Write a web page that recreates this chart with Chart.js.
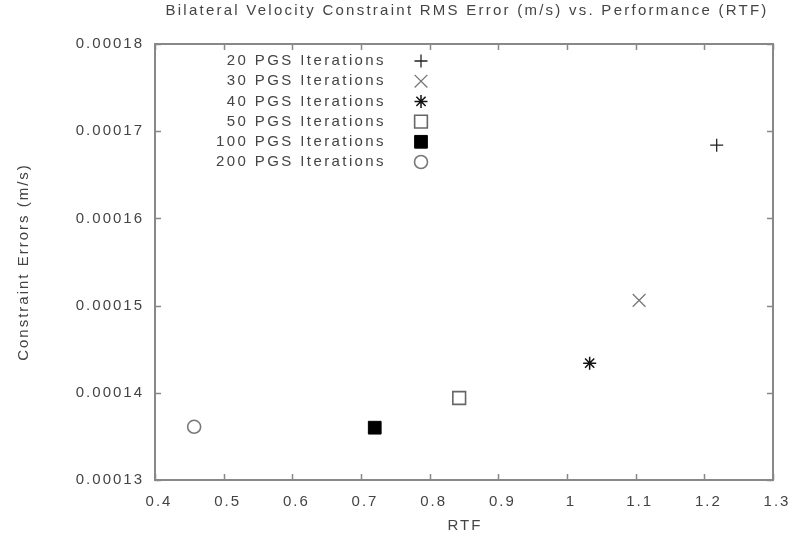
<!DOCTYPE html>
<html><head><meta charset="utf-8">
<script src="https://cdn.jsdelivr.net/npm/chart.js@4.4.1/dist/chart.umd.min.js"></script>
<style>html,body{margin:0;padding:0;background:#fff}#wrap{width:806px;height:538px}</style>
</head><body><div id="wrap"><canvas id="c" width="806" height="538"></canvas></div>
<script>
// ---- data ----
const seriesLabels = ['20 PGS Iterations','30 PGS Iterations','40 PGS Iterations','50 PGS Iterations','100 PGS Iterations','200 PGS Iterations'];
const rtfValues = [1.218, 1.105, 1.033, 0.843, 0.720, 0.457];
const errorValues = [0.0001684, 0.0001506, 0.0001434, 0.0001394, 0.0001360, 0.0001361];
const xTickValues = [0.4,0.5,0.6,0.7,0.8,0.9,1.0,1.1,1.2,1.3];
const xTickLabels = ['0.4','0.5','0.6','0.7','0.8','0.9','1','1.1','1.2','1.3'];
const yTickValues = [0.00013,0.00014,0.00015,0.00016,0.00017,0.00018];
const yTickLabels = ['0.00013','0.00014','0.00015','0.00016','0.00017','0.00018'];
const titleText = 'Bilateral Velocity Constraint RMS Error (m/s) vs. Performance (RTF)';
const xTitleText = 'RTF';
const yTitleText = 'Constraint Errors (m/s)';

// ---- styles ----
const markerStyles = [
  {pointStyle:'cross', radius:6.5, borderColor:'#222', backgroundColor:'rgba(0,0,0,0)', borderWidth:1.3},
  {pointStyle:'crossRot', radius:9, borderColor:'#777', backgroundColor:'rgba(0,0,0,0)', borderWidth:1.3},
  {pointStyle:'star', radius:6.5, borderColor:'#111', backgroundColor:'rgba(0,0,0,0)', borderWidth:1.5},
  {pointStyle:'rect', radius:9, borderColor:'#666', backgroundColor:'#fff', borderWidth:1.6},
  {pointStyle:'rect', radius:9, borderColor:'#000', backgroundColor:'#000', borderWidth:1},
  {pointStyle:'circle', radius:6.5, borderColor:'#777', backgroundColor:'#fff', borderWidth:1.6}
];
const FONT = '"Liberation Sans", Arial, sans-serif';
const TEXT = '#444';

const datasets = seriesLabels.map((lab, i) => ({
  label: lab,
  data: [{x: rtfValues[i], y: errorValues[i]}],
  pointStyle: markerStyles[i].pointStyle,
  pointRadius: markerStyles[i].radius,
  pointHoverRadius: markerStyles[i].radius,
  pointBorderColor: markerStyles[i].borderColor,
  pointBackgroundColor: markerStyles[i].backgroundColor,
  pointBorderWidth: markerStyles[i].borderWidth,
  showLine: false
}));

function drawMarker(ctx, st, x, y) {
  ctx.save();
  ctx.strokeStyle = st.borderColor;
  ctx.fillStyle = st.backgroundColor;
  ctx.lineWidth = st.borderWidth;
  if (Chart.helpers && Chart.helpers.drawPoint) {
    Chart.helpers.drawPoint(ctx, {pointStyle: st.pointStyle, radius: st.radius, rotation: 0, borderWidth: st.borderWidth}, x, y);
  }
  ctx.restore();
}

const decor = {
  id: 'decor',
  beforeDraw(chart) {
    chart.ctx.letterSpacing = '2px';
  },
  afterDraw(chart) {
    const ctx = chart.ctx;
    const a = chart.chartArea;
    const xs = chart.scales.x, ys = chart.scales.y;
    ctx.save();
    // box
    ctx.strokeStyle = '#888';
    ctx.lineWidth = 2;
    ctx.strokeRect(a.left, a.top, a.right - a.left, a.bottom - a.top);
    // inward ticks (mirrored)
    ctx.lineWidth = 1.5;
    ctx.beginPath();
    xTickValues.forEach(v => {
      const px = Math.round(xs.getPixelForValue(v)) + 0.5;
      ctx.moveTo(px, a.bottom); ctx.lineTo(px, a.bottom - 6);
      ctx.moveTo(px, a.top); ctx.lineTo(px, a.top + 6);
    });
    yTickValues.forEach(v => {
      const py = Math.round(ys.getPixelForValue(v)) + 0.5;
      ctx.moveTo(a.left, py); ctx.lineTo(a.left + 6, py);
      ctx.moveTo(a.right, py); ctx.lineTo(a.right - 6, py);
    });
    ctx.stroke();
    // titles
    ctx.fillStyle = TEXT;
    ctx.font = '15px ' + FONT;
    ctx.letterSpacing = '2.25px';
    ctx.textAlign = 'center';
    ctx.textBaseline = 'middle';
    ctx.fillText(titleText, 467, 11);
    ctx.letterSpacing = '2px';
    ctx.fillText(xTitleText, (a.left + a.right) / 2 + 1, 526);
    ctx.save();
    ctx.translate(24, 262);
    ctx.rotate(-Math.PI / 2);
    ctx.fillText(yTitleText, 0, 0);
    ctx.restore();
    // legend
    ctx.letterSpacing = '2.4px';
    ctx.textAlign = 'right';
    seriesLabels.forEach((lab, i) => {
      const y = 61 + 20.2 * i;
      ctx.fillStyle = TEXT;
      ctx.fillText(lab, 386, y);
      drawMarker(ctx, markerStyles[i], 421, y);
    });
    ctx.restore();
  }
};

new Chart(document.getElementById('c'), {
  type: 'scatter',
  data: { datasets },
  options: {
    responsive: false,
    animation: false,
    devicePixelRatio: 1,
    layout: { padding: { top: 44, right: 33, left: 0, bottom: 0 } },
    plugins: { legend: { display: false }, tooltip: { enabled: false }, title: { display: false } },
    scales: {
      x: {
        type: 'linear', min: 0.4, max: 1.3,
        afterBuildTicks: s => { s.ticks = xTickValues.map(v => ({ value: v })); },
        afterFit: s => { s.height = 58; },
        grid: { display: false, drawTicks: false },
        border: { display: false },
        ticks: {
          autoSkip: false, maxRotation: 0, padding: 13, labelOffset: 4, color: TEXT,
          font: { family: FONT, size: 15 },
          callback: (v, i) => xTickLabels[i]
        }
      },
      y: {
        type: 'linear', min: 0.00013, max: 0.00018,
        afterBuildTicks: s => { s.ticks = yTickValues.map(v => ({ value: v })); },
        afterFit: s => { s.width = 155; },
        grid: { display: false, drawTicks: false },
        border: { display: false },
        ticks: {
          autoSkip: false, padding: 11, color: TEXT,
          font: { family: FONT, size: 15 },
          callback: (v, i) => yTickLabels[i]
        }
      }
    }
  },
  plugins: [decor]
});
</script>
</body></html>
